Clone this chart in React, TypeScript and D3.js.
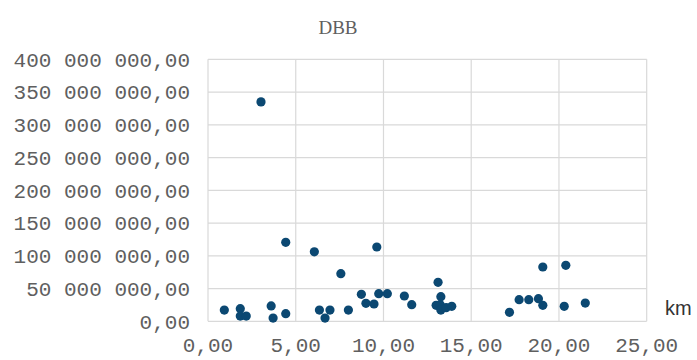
import React from "react";
import * as d3 from "d3";

const distanceKm = [
  0.93, 1.84, 1.84, 2.18, 3.02, 3.6, 3.71, 4.43, 4.43,
  6.06, 6.35, 6.67, 6.95, 7.57, 8.0,
  8.74, 9.0, 9.46, 9.62, 9.73, 10.22, 11.19, 11.61,
  13.0, 13.11, 13.23, 13.27, 13.27, 13.57, 13.89,
  17.18, 17.73, 18.28, 18.83, 19.08, 19.08, 20.3, 20.39, 21.5,
];
const dbbValues = [
  17.2e6, 19.3e6, 8e6, 8e6, 335e6, 23.4e6, 5e6, 120.6e6, 11.6e6,
  106e6, 17.2e6, 5e6, 17.2e6, 72.7e6, 17.2e6,
  41.2e6, 27.5e6, 26.4e6, 113.4e6, 42.2e6, 42.2e6, 38.6e6, 25.4e6,
  24.4e6, 59.5e6, 25.4e6, 37.6e6, 17.2e6, 20.8e6, 22.9e6,
  13.7e6, 33e6, 33e6, 34.5e6, 82.9e6, 24.4e6, 22.9e6, 85.5e6, 27.9e6,
];
const xTicks = [0, 5, 10, 15, 20, 25];
const yTicks = [0, 50e6, 100e6, 150e6, 200e6, 250e6, 300e6, 350e6, 400e6];
const title = "DBB";
const xUnit = "km";

const W = 697;
const H = 360;
const left = 208;
const right = 646.7;
const top = 59.3;
const bottom = 321.3;

const fmt = (v: number) => {
  const s = v.toFixed(2);
  const [intPart, dec] = s.split(".");
  const grouped = intPart.replace(/\B(?=(\d{3})+(?!\d))/g, " ");
  return grouped + "," + dec;
};

export default function App() {
  const x = d3.scaleLinear().domain([0, 25]).range([left, right]);
  const y = d3.scaleLinear().domain([0, 400e6]).range([bottom, top]);
  const grid = "#d9d9d9";
  const textColor = "#5f5f5f";
  const mono = "'Liberation Mono', 'DejaVu Sans Mono', monospace";
  return (
    <svg
      width={W}
      height={H}
      style={{ position: "fixed", left: 0, top: 0, background: "#fff" }}
    >
      <rect x={0} y={0} width={W} height={H} fill="#fff" />
      <text
        x={338}
        y={33.5}
        textAnchor="middle"
        fontFamily="'Liberation Serif', 'DejaVu Serif', serif"
        fontSize={19}
        fill={textColor}
      >
        {title}
      </text>
      {yTicks.map((t) => (
        <line
          key={"gy" + t}
          x1={left}
          x2={right}
          y1={y(t)}
          y2={y(t)}
          stroke={grid}
          strokeWidth={1.2}
        />
      ))}
      {xTicks.map((t) => (
        <line
          key={"gx" + t}
          x1={x(t)}
          x2={x(t)}
          y1={top}
          y2={bottom}
          stroke={grid}
          strokeWidth={1.2}
        />
      ))}
      {yTicks.map((t) => (
        <text
          key={"ty" + t}
          x={190}
          y={y(t)}
          dy="0.35em"
          textAnchor="end"
          fontFamily={mono}
          fontSize={21}
          fill={textColor}
        >
          {fmt(t)}
        </text>
      ))}
      {xTicks.map((t) => (
        <text
          key={"tx" + t}
          x={x(t)}
          y={345}
          dy="0.35em"
          textAnchor="middle"
          fontFamily={mono}
          fontSize={21}
          fill={textColor}
        >
          {fmt(t)}
        </text>
      ))}
      <text
        x={665}
        y={308}
        dy="0.35em"
        fontFamily="'Liberation Sans', Arial, sans-serif"
        fontSize={20}
        fill="#333"
      >
        {xUnit}
      </text>
      {distanceKm.map((d, i) => (
        <circle
          key={"p" + i}
          cx={x(d)}
          cy={y(dbbValues[i])}
          r={4.6}
          fill="#0b4872"
        />
      ))}
    </svg>
  );
}
